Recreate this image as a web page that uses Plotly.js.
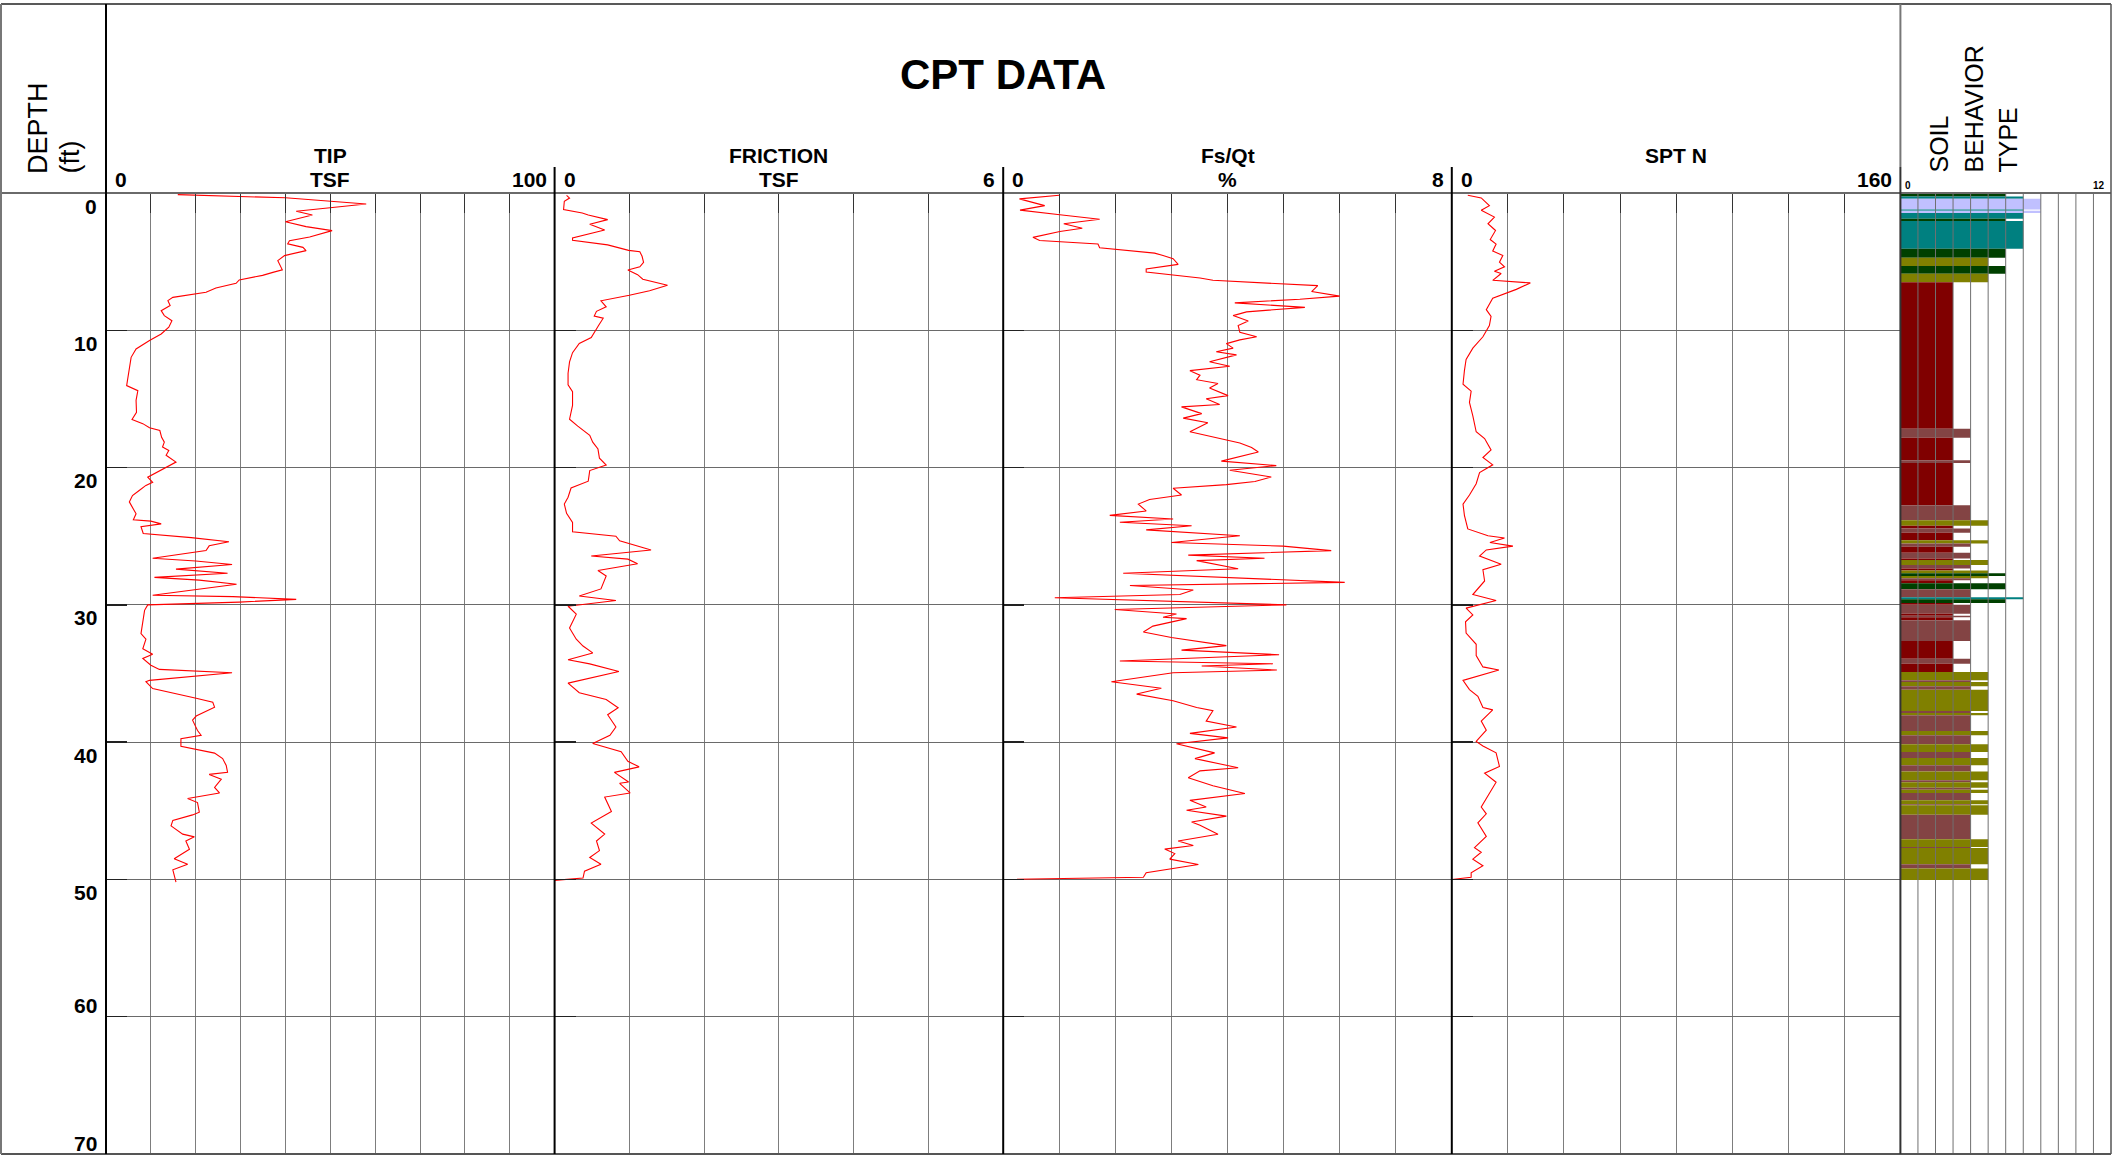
<!DOCTYPE html>
<html>
<head>
<meta charset="utf-8">
<script src="https://cdn.plot.ly/plotly-3.0.1.min.js"></script>
<style>
  html, body { margin: 0; padding: 0; background: #fff; }
  #chart { width: 2112px; height: 1156px; }
</style>
</head>
<body>
<div id="chart"></div>
<script>
// ---- CPT sounding data (depth in ft) ----
const tipDepth = [0.12,0.35,0.8,1.33,1.6,2.1,2.45,2.74,3.2,3.47,3.7,3.96,4.2,4.56,4.93,5.6,5.78,6.0,6.33,6.58,6.92,7.23,7.6,7.84,8.2,8.57,8.93,9.3,9.78,10.27,10.75,11.36,11.97,12.94,13.67,14.03,14.4,15.1,15.97,16.5,16.8,17.1,17.3,17.8,18.15,18.5,18.76,19.1,19.6,19.93,20.3,20.7,21.07,21.3,21.67,22.04,22.5,22.9,23.37,23.8,23.9,24.1,24.3,24.8,25.1,25.4,25.7,26.04,26.6,26.8,27.06,27.4,27.7,28.0,28.2,28.5,29.3,29.4,29.6,29.8,30.0,30.4,31.4,32.1,32.5,33.2,33.6,33.9,34.4,34.7,34.95,35.5,35.6,36.1,36.8,37.1,37.45,38.1,38.4,39.15,39.5,39.75,40.3,40.55,40.8,41.2,41.7,42.2,42.35,42.7,43.3,43.7,44.1,44.4,45.1,45.3,45.7,46.1,46.7,46.9,47.2,47.8,48.5,48.9,49.3,50.2];
const tipTsf = [16,40,58,42.4,46,40,44.6,50.4,45.4,40.9,40.5,43.9,44.6,39.8,38.3,39.3,37.2,34.9,29.7,29,24.5,22.3,14.9,13.8,14.3,12.3,13,14.7,14,12.3,9.7,6.7,5.6,5.2,4.8,4.6,7.1,6.7,6.8,5.8,8.2,9.7,12,12.4,13,12.6,14,13.4,15.6,13.8,11.5,9.3,10.4,8.9,7.4,5.9,5.2,5.9,6.7,6.1,10,12.3,7.8,8.3,19,27.4,23,22.3,10.4,20,28.1,15.6,27.1,10.8,20.8,29.1,10.4,28.3,42.4,29.7,9.3,8.6,8.2,7.8,8.9,8.2,10.4,8.2,10,11.9,28.1,9.7,8.9,10.4,20.1,23.8,24.2,20.1,19.3,20.4,21.2,16.7,16.7,20.8,24.2,26,26.8,27.1,23,25.7,24.2,25.3,18.2,20.4,20.8,19.3,14.9,14.5,17.1,19.7,17.8,18.6,15.2,18.2,14.9,15.6];

const frictionDepth = [0.17,0.37,0.6,1.2,1.45,1.6,1.94,2.27,2.7,3.27,3.44,3.78,4.18,4.28,4.61,5.05,5.38,5.61,5.95,6.28,6.72,7.12,7.45,7.85,8.29,8.62,8.96,9.12,9.63,10.13,10.53,10.96,11.63,12.3,13.13,13.97,14.47,15.47,16.48,16.98,17.65,18.15,18.65,19.32,19.82,20.22,20.99,21.49,22.16,22.66,23.33,24.0,24.67,25.0,25.33,26.0,26.44,26.67,27.0,27.5,27.9,28.84,29.35,29.68,30.1,30.68,31.68,32.5,33.0,33.5,34.0,34.3,34.86,35.7,36.4,36.9,37.5,38.0,38.9,39.5,40.1,40.7,41.4,41.8,42.2,42.9,43.0,43.7,44.0,45.05,45.9,46.7,47.2,47.9,48.4,48.9,49.4,49.9,50.07];
const frictionTsf = [0.16,0.2,0.13,0.12,0.37,0.45,0.71,0.47,0.67,0.24,0.24,0.71,0.99,1.14,1.17,1.19,1.14,0.98,1.11,1.18,1.51,1.27,1.0,0.62,0.69,0.56,0.53,0.65,0.59,0.53,0.49,0.33,0.24,0.2,0.18,0.18,0.24,0.24,0.2,0.31,0.47,0.51,0.58,0.6,0.69,0.47,0.45,0.22,0.18,0.13,0.16,0.24,0.24,0.82,0.87,1.29,0.49,0.98,1.11,0.58,0.69,0.62,0.33,0.82,0.18,0.29,0.2,0.29,0.38,0.51,0.18,0.47,0.86,0.18,0.33,0.69,0.85,0.71,0.82,0.74,0.51,0.89,0.98,1.13,0.8,0.99,0.87,1.01,0.67,0.76,0.49,0.67,0.56,0.6,0.47,0.62,0.4,0.38,0];

const ratioDepth = [0.16,0.43,0.92,1.25,1.58,1.91,2.24,2.57,2.8,3.23,3.46,3.72,3.99,4.38,4.55,4.78,5.2,5.53,5.76,5.96,6.19,6.36,6.62,6.75,7.18,7.51,7.74,8.0,8.33,8.66,8.93,9.32,9.65,10.14,10.47,10.7,10.97,11.3,11.56,11.79,12.29,12.62,12.94,13.27,13.6,13.87,14.2,14.76,14.99,15.41,15.58,16.07,16.4,16.73,17.39,17.72,18.21,18.54,18.87,19.53,19.86,20.19,20.69,21.01,21.24,21.51,22.0,22.33,22.66,23.16,23.48,23.75,23.98,24.24,24.54,24.97,25.46,25.72,26.05,26.38,26.61,26.78,27.37,27.7,28.36,28.59,28.92,29.25,29.48,30.0,30.34,30.67,30.9,31.0,31.55,31.98,32.38,32.97,33.3,33.63,34.09,34.29,34.45,34.75,34.95,35.6,36.07,36.5,36.99,37.48,37.71,38.47,38.9,39.36,39.69,40.12,40.78,41.2,41.87,42.09,42.59,43.18,43.74,44.24,44.73,44.96,45.39,45.82,46.05,46.71,47.2,47.53,47.79,48.12,48.52,48.91,49.51,49.84,50.0];
const ratioPct = [1.0,0.29,0.74,0.3,1.01,1.72,1.08,1.41,1.01,0.53,0.65,1.69,1.72,2.7,2.85,3.03,3.12,2.55,2.55,3.03,3.51,3.74,4.99,5.61,5.5,6.0,5.29,4.13,5.38,4.34,4.1,4.37,4.19,4.22,4.52,4.22,3.98,4.1,3.8,4.16,3.68,4.04,3.33,3.51,3.45,3.83,3.68,4.01,3.62,3.86,3.18,3.54,3.21,3.65,3.33,3.68,4.22,4.43,4.55,3.89,4.87,4.04,4.78,4.49,3.98,3.03,3.18,2.61,2.41,2.55,1.9,3.03,2.08,3.36,2.55,4.22,3.0,4.99,5.85,3.3,4.66,3.45,4.19,2.14,6.09,2.26,3.39,3.15,0.92,5.05,1.99,3.09,2.85,3.27,2.67,2.5,3.0,3.98,3.18,4.92,2.08,4.81,3.54,4.88,3.03,1.93,2.82,2.38,3.03,3.45,3.74,3.62,4.16,3.33,4.01,3.09,3.77,3.42,4.19,3.51,3.3,3.74,4.31,3.33,3.62,3.27,3.98,3.36,3.51,3.83,3.12,3.39,2.88,3.06,2.97,3.48,2.55,2.5,0];

const sptDepth = [0.16,0.36,0.59,0.92,1.25,1.75,2.24,2.73,3.39,3.72,4.22,4.55,5.04,5.37,5.7,5.86,6.36,6.55,7.02,7.67,8.5,8.99,9.65,10.47,11.3,12.12,12.94,13.93,14.43,15.25,16.24,17.39,17.89,18.71,19.27,19.8,20.36,21.18,22.0,22.66,23.48,24.47,24.97,25.13,25.46,25.72,26.0,26.45,27.04,27.44,28.26,29.25,29.68,30.24,30.73,31.23,32.05,32.87,33.7,34.52,34.75,35.5,36.17,36.66,37.48,37.65,38.47,39.13,39.95,40.28,40.78,41.77,42.26,42.92,43.91,44.73,45.22,45.88,46.87,47.69,48.02,48.52,49.01,49.51,49.84,50.0];
const sptN = [5.7,10.5,11.7,13.4,10.5,15.2,12.9,15.6,13.7,15.8,14.6,18.2,17.0,18.8,15.2,17.6,14.6,28.0,23.0,14.6,12.3,14.0,13.4,11.1,7.5,5.1,4.5,4.0,6.9,6.3,7.5,8.7,11.7,14.0,11.1,14.6,9.9,8.7,6.3,4.0,4.5,5.7,12.9,18.8,13.6,21.8,12.3,9.9,17.6,11.1,11.7,7.5,15.8,5.1,7.5,4.9,5.1,8.7,8.7,11.1,16.8,4.0,6.3,9.3,11.1,14.6,10.5,12.3,8.7,11.1,15.8,17.0,11.7,15.8,12.9,10.5,12.3,9.3,12.3,8.1,10.5,7.5,11.1,6.9,6.9,0];

// Soil behaviour type layers: boundaries (ft) and zone number of each layer
const sbtBounds = [0.0,0.25,0.42,1.2,1.3,1.46,1.87,2.04,4.06,4.72,5.32,5.88,6.5,17.17,17.82,19.47,19.66,22.74,23.83,24.24,24.44,24.75,25.29,25.53,25.77,26.21,26.62,26.74,27.1,27.35,27.5,27.7,27.9,28.06,28.2,28.43,28.87,29.45,29.6,29.86,30.0,30.64,30.8,30.9,31.13,32.63,33.92,34.29,34.89,35.5,35.62,35.93,36.18,37.73,37.88,38.05,39.19,39.5,40.16,40.72,41.15,41.69,42.13,42.78,42.93,43.32,43.46,43.71,44.24,44.53,44.6,45.29,47.08,47.64,47.71,48.9,49.21,50.05];
const sbtZone = [6,7,8,7,8,7,6,7,6,5,6,5,3,4,3,4,3,4,5,3,4,3,5,4,3,4,3,5,4,3,5,6,5,4,3,6,4,7,6,3,4,3,4,3,4,3,4,3,5,4,5,4,5,4,5,4,5,4,5,4,5,4,5,4,5,4,5,4,5,4,5,4,5,4,5,4,5];
const zoneColor = {3: '#800000', 4: '#834444', 5: '#808000', 6: '#004000', 7: '#008080', 8: '#c0c0ff'};

// Panel axes: title lines, range max, grid step, end labels
const panelTitles = [['TIP', 'TSF'], ['FRICTION', 'TSF'], ['Fs/Qt', '%'], ['SPT N', '']];
const panelMax = [100, 6, 8, 160];
const panelStep = [10, 1, 1, 20];
const panelLo = ['0', '0', '0', '0'];
const panelHi = ['100', '6', '8', '160'];
const sbtMax = 12;
const depthTicks = [0, 10, 20, 30, 40, 50, 60, 70];

// ---- page geometry (pixels) ----
const W = 2112, H = 1156;
const M = {l: 106, r: 1, t: 193, b: 2};
const PW = W - M.l - M.r, PH = H - M.t - M.b;
const px = X => (X - M.l) / PW;
const py = Y => (H - M.b - Y) / PH;
const bounds = [106, 554.6, 1003.2, 1451.8, 1900.4, 2111];
const FONT = 'Liberation Sans, Arial, Helvetica, sans-serif';

const traces = [];
const curves = [[tipTsf, tipDepth], [frictionTsf, frictionDepth], [ratioPct, ratioDepth], [sptN, sptDepth]];
curves.forEach((c, i) => {
  traces.push({
    type: 'scatter', mode: 'lines', x: c[0], y: c[1],
    xaxis: i === 0 ? 'x' : 'x' + (i + 1), yaxis: i === 0 ? 'y' : 'y' + (i + 1),
    line: {color: '#ff0000', width: 1.1}, hoverinfo: 'skip'
  });
});

const sbtMid = [], sbtThick = [], sbtColor = [];
for (let i = 0; i < sbtZone.length; i++) {
  sbtMid.push((sbtBounds[i] + sbtBounds[i + 1]) / 2);
  sbtThick.push(sbtBounds[i + 1] - sbtBounds[i]);
  sbtColor.push(zoneColor[sbtZone[i]]);
}
traces.push({
  type: 'bar', orientation: 'h', x: sbtZone, y: sbtMid, width: sbtThick, base: 0,
  xaxis: 'x5', yaxis: 'y5', marker: {color: sbtColor, line: {width: 0}}, hoverinfo: 'skip'
});

const layout = {
  width: W, height: H, margin: M, showlegend: false, hovermode: false,
  paper_bgcolor: '#ffffff', plot_bgcolor: '#ffffff',
  font: {family: FONT, color: '#000'},
  shapes: [], annotations: []
};

for (let i = 0; i < 4; i++) {
  const xs = i === 0 ? '' : String(i + 1);
  layout['xaxis' + xs] = {
    domain: [px(bounds[i]), px(bounds[i + 1])], range: [0, panelMax[i]], anchor: 'y' + xs,
    side: 'top', tick0: 0, dtick: panelStep[i], showgrid: true, gridcolor: '#7d7d7d', gridwidth: 1,
    ticks: 'inside', ticklen: 20, tickcolor: '#333', tickwidth: 1,
    showticklabels: false, zeroline: false, showline: false, fixedrange: true
  };
  layout['yaxis' + xs] = {
    domain: [0, 1], range: [70, 0], anchor: 'x' + xs, tick0: 0, dtick: 10,
    showgrid: true, gridcolor: '#6a6a6a', gridwidth: 1,
    ticks: 'inside', ticklen: 21, tickcolor: '#222', tickwidth: 1.5,
    showticklabels: false, zeroline: false, showline: false, fixedrange: true
  };
}
layout.xaxis5 = {
  domain: [px(bounds[4]), 1], range: [0, sbtMax], anchor: 'y5', side: 'top',
  showgrid: false, ticks: '', showticklabels: false, zeroline: false, showline: false, fixedrange: true
};
layout.yaxis5 = {
  domain: [0, 1], range: [70, 0], anchor: 'x5', showgrid: false, ticks: '',
  showticklabels: false, zeroline: false, showline: false, fixedrange: true
};

// SBT grid drawn over the layer bars
for (let z = 1; z < sbtMax; z++) {
  layout.shapes.push({type: 'line', xref: 'x5', yref: 'y5', x0: z, x1: z, y0: 0, y1: 70,
    line: {color: '#707070', width: 1}, layer: 'above'});
}

// frame and separators
const S = layout.shapes;
const pline = (x0, y0, x1, y1, color, width) => S.push({type: 'line', xref: 'paper', yref: 'paper',
  x0: px(x0), x1: px(x1), y0: py(y0), y1: py(y1), line: {color, width}, layer: 'above'});
pline(1, 193, 2111, 193, '#6a6a6a', 2);
pline(1, 4, 2111, 4, '#222', 1.5);
pline(1, 1154, 2111, 1154, '#555', 2);
pline(1, 4, 1, 1154, '#777', 2);
pline(2111, 4, 2111, 1154, '#555', 1.5);
pline(106, 4, 106, 1154, '#000', 2);
for (let i = 1; i < 4; i++) pline(bounds[i], 167, bounds[i], 1154, '#000', 2);
pline(bounds[4], 4, bounds[4], 167, '#777', 2);
pline(bounds[4], 167, bounds[4], 1154, '#333', 2);

// header text
const A = layout.annotations;
const ann = (text, X, Y, opts) => A.push(Object.assign({
  text, xref: 'paper', yref: 'paper', x: px(X), y: py(Y), showarrow: false,
  xanchor: 'center', yanchor: 'middle', borderpad: 0,
  font: {family: FONT, size: 21, color: '#000'}
}, opts || {}));

ann('<b>CPT DATA</b>', 1003, 74, {font: {family: FONT, size: 42, color: '#000'}});
for (let i = 0; i < 4; i++) {
  const cx = (bounds[i] + bounds[i + 1]) / 2;
  ann('<b>' + panelTitles[i][0] + '</b>', cx, 156);
  if (panelTitles[i][1]) ann('<b>' + panelTitles[i][1] + '</b>', cx, 180);
  ann('<b>' + panelLo[i] + '</b>', bounds[i] + 8, 180, {xanchor: 'left'});
  ann('<b>' + panelHi[i] + '</b>', bounds[i + 1] - 7, 180, {xanchor: 'right'});
}
ann('<b>0</b>', bounds[4] + 4, 185, {xanchor: 'left', font: {family: FONT, size: 10, color: '#000'}});
ann('<b>' + sbtMax + '</b>', 2106, 185, {xanchor: 'right', font: {family: FONT, size: 10, color: '#000'}});

const rotDepth = {textangle: -90, yanchor: 'bottom', font: {family: FONT, size: 27, color: '#000'}};
const rotSbt = {textangle: -90, yanchor: 'bottom', font: {family: FONT, size: 25, color: '#000'}};
ann('DEPTH', 38, 175, rotDepth);
ann('(ft)', 69, 175, rotDepth);
ann('SOIL', 1939, 174, rotSbt);
ann('BEHAVIOR', 1974, 174, rotSbt);
ann('TYPE', 2008, 174, rotSbt);

// depth labels
depthTicks.forEach(d => {
  A.push({text: '<b>' + d + '</b>', xref: 'paper', yref: 'y', x: px(98), y: d, showarrow: false,
    xanchor: 'right', yanchor: 'middle', borderpad: 0, yshift: d >= 60 ? 11 : -13,
    font: {family: FONT, size: 21, color: '#000'}});
});

Plotly.newPlot('chart', traces, layout, {staticPlot: true, displayModeBar: false});
</script>
</body>
</html>
